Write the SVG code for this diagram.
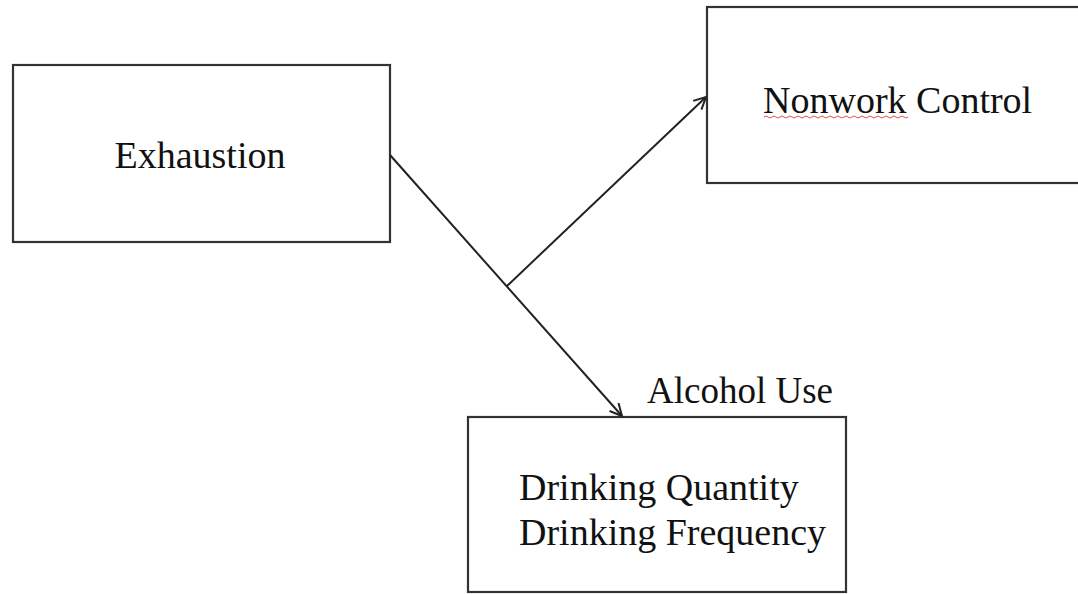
<svg xmlns="http://www.w3.org/2000/svg" width="1078" height="594" viewBox="0 0 1078 594">
<defs>
<marker id="arr" viewBox="0 0 14 14" refX="13" refY="7" markerWidth="14" markerHeight="14" markerUnits="userSpaceOnUse" orient="auto">
<path d="M1,1 L13,7 L1,13" fill="none" stroke="#222" stroke-width="2"/>
</marker>
<style>
.box{fill:#fff;stroke:#333;stroke-width:2.2}
.lbl{font-family:"Liberation Serif","Times New Roman",serif;font-size:38px;fill:#111}
.ln{fill:none;stroke:#222;stroke-width:2}
</style>
</defs>
<rect width="1078" height="594" fill="#fff"/>
<g id="exhaustion">
<rect class="box" x="13" y="65" width="377" height="177"/>
<text class="lbl" x="200" y="168" text-anchor="middle">Exhaustion</text>
</g>
<g id="nonwork-control">
<rect class="box" x="707" y="7" width="380" height="176"/>
<text class="lbl" x="763" y="113">Nonwork Control</text>
<path d="M764,117 q2,-2 4,0 t4,0 t4,0 t4,0 t4,0 t4,0 t4,0 t4,0 t4,0 t4,0 t4,0 t4,0 t4,0 t4,0 t4,0 t4,0 t4,0 t4,0 t4,0 t4,0 t4,0 t4,0 t4,0 t4,0 t4,0 t4,0 t4,0 t4,0 t4,0 t4,0 t4,0 t4,0 t4,0 t4,0 t4,0 t4,0" fill="none" stroke="#e05050" stroke-width="1"/>
</g>
<g id="alcohol-use">
<text class="lbl" x="647" y="403" style="font-size:37px">Alcohol Use</text>
<rect class="box" x="468" y="417" width="378" height="175"/>
<text class="lbl" x="519" y="500">Drinking Quantity</text>
<text class="lbl" x="519" y="545">Drinking Frequency</text>
</g>
<g id="connectors">
<path class="ln" d="M390,155 L622,416" marker-end="url(#arr)"/>
<path class="ln" d="M507,286 L706,97" marker-end="url(#arr)"/>
</g>
</svg>
